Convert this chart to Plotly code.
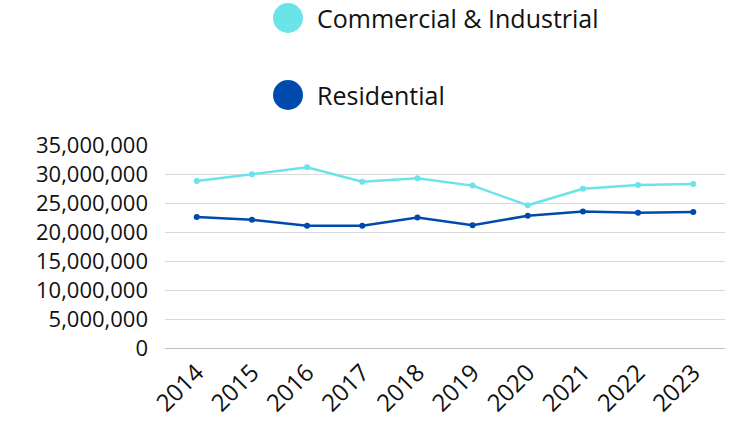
import plotly.graph_objects as go

years = ["2014", "2015", "2016", "2017", "2018", "2019", "2020", "2021", "2022", "2023"]
commercial_industrial = [28800000, 29950000, 31150000, 28670000, 29250000, 28000000, 24600000, 27450000, 28100000, 28260000]
residential = [22570000, 22100000, 21060000, 21060000, 22500000, 21180000, 22800000, 23550000, 23320000, 23440000]
series_names = ["Commercial & Industrial", "Residential"]
colors = ["#6BE4E9", "#004AAD"]

FONT = "Open Sans"

fig = go.Figure()
for name, vals, col in zip(series_names, [commercial_industrial, residential], colors):
    fig.add_trace(go.Scatter(
        x=years, y=vals, name=name, mode="lines+markers",
        line=dict(color=col, width=2.5),
        marker=dict(color=col, size=6),
        showlegend=False,
    ))

# custom legend (large circles)
legend_y = [18, 95]
for i, (name, col) in enumerate(zip(series_names, colors)):
    fig.add_shape(type="circle", xref="paper", yref="paper",
                  xsizemode="pixel", ysizemode="pixel",
                  xanchor=(288 - 165) / (725 - 165), yanchor=1 + (145 - legend_y[i]) / (348 - 145),
                  x0=-15, x1=15, y0=-15, y1=15,
                  fillcolor=col, line=dict(width=0))
    fig.add_annotation(xref="paper", yref="paper",
                       x=(315 - 165) / (725 - 165), y=1 + (145 - legend_y[i]) / (348 - 145),
                       xanchor="left", yanchor="middle", showarrow=False,
                       text=name, font=dict(family=FONT, size=25, color="#111111"))

fig.update_layout(
    width=733, height=425,
    margin=dict(l=165, r=8, t=145, b=77),
    paper_bgcolor="white", plot_bgcolor="white",
    font=dict(family=FONT, size=24, color="#111111"),
    showlegend=False,
)
fig.update_xaxes(
    type="category", tickangle=-45, showgrid=False,
    showline=True, linecolor="#BFBFBF", linewidth=1,
    ticks="", tickfont=dict(family=FONT, size=24),
)
fig.update_yaxes(
    range=[0, 35000000], dtick=5000000, tickformat=",d",
    showgrid=True, gridcolor="#D9D9D9", gridwidth=1,
    zeroline=False, ticks="", ticklabelstandoff=16,
    tickfont=dict(family=FONT, size=22),
)

fig.write_html("out.html")
